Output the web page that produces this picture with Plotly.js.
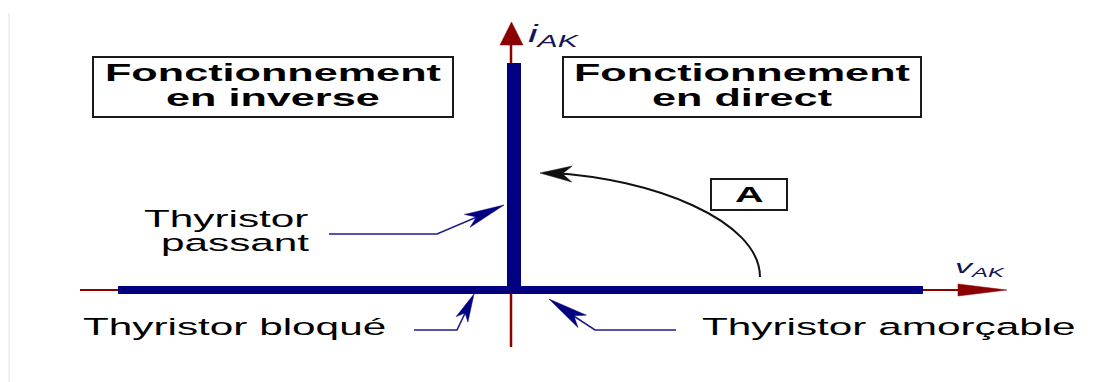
<!DOCTYPE html>
<html>
<head>
<meta charset="utf-8">
<script src="https://cdn.plot.ly/plotly-3.0.1.min.js"></script>
<style>
  html, body { margin: 0; padding: 0; background: #fff; }
  #chart { width: 1115px; height: 382px; }
  /* the reference lettering is drawn horizontally stretched */
  text.annotation-text { transform-box: fill-box; transform-origin: center; transform: scaleX(1.8); }
</style>
</head>
<body>
<div id="chart"></div>
<script>
// ---- Thyristor static characteristic (schematic units, origin at vAK = 0, iAK = 0) ----
const vBloque = [-393, 0];      // reverse region : blocked
const iBloque = [0, 0];
const vAmorcable = [0, 412];    // forward region : can be triggered
const iAmorcable = [0, 0];
const vPassant = [3, 3];        // conducting : vertical branch
const iPassant = [0, 227];

const boxTitles = ["Fonctionnement", "en inverse", "Fonctionnement", "en direct"];
const stateLabels = ["Thyristor", "passant", "Thyristor bloqué", "Thyristor amorçable"];
const axisLabels = ["<i>i<sub>AK</sub></i>", "<i>v<sub>AK</sub></i>"];
const transitionLabel = "A";

// ---- styling ----
const NAVY = "#000080";
const RED = "#8b0000";
const FONT = "Liberation Sans, Arial, sans-serif";

function arrowHead(tip, from, L, W, notch) {
  const dx = tip[0] - from[0], dy = tip[1] - from[1];
  const len = Math.hypot(dx, dy);
  const ux = dx / len, uy = dy / len, nx = -uy, ny = ux;
  const bx = tip[0] - L * ux, by = tip[1] - L * uy;
  const b1 = [bx + nx * W / 2, by + ny * W / 2];
  const b2 = [bx - nx * W / 2, by - ny * W / 2];
  const nt = [tip[0] - notch * L * ux, tip[1] - notch * L * uy];
  return `M${tip[0]},${tip[1]} L${b1[0]},${b1[1]} L${nt[0]},${nt[1]} L${b2[0]},${b2[1]} Z`;
}
function poly(pts) {
  return "M" + pts.map(p => p[0] + "," + p[1]).join(" L");
}

const traces = [
  { x: vBloque, y: iBloque, mode: "lines", line: { color: NAVY, width: 8 }, hoverinfo: "skip", showlegend: false },
  { x: vAmorcable, y: iAmorcable, mode: "lines", line: { color: NAVY, width: 8 }, hoverinfo: "skip", showlegend: false },
  { x: vPassant, y: iPassant, mode: "lines", line: { color: NAVY, width: 14 }, hoverinfo: "skip", showlegend: false }
];

const shapes = [];
// faint frame line at left
shapes.push({ type: "line", x0: -502, x1: -502, y0: 277, y1: -92, line: { color: "#e2e2e2", width: 1 }, layer: "below" });
// axes (thin dark red) with arrow heads
shapes.push({ type: "line", x0: -431, x1: 447, y0: 0, y1: 0, line: { color: RED, width: 2 }, layer: "below" });
shapes.push({ type: "line", x0: 0, x1: 0, y0: -57, y1: 245, line: { color: RED, width: 2.5 }, layer: "below" });
shapes.push({ type: "path", path: arrowHead([496, 0], [400, 0], 49, 12, 1), fillcolor: RED, line: { color: RED, width: 0.5 } });
shapes.push({ type: "path", path: arrowHead([0.5, 268], [0.5, 200], 23, 23, 1), fillcolor: RED, line: { color: RED, width: 0.5 } });
// boxes
const boxLine = { color: "#1a1a1a", width: 2 };
shapes.push({ type: "rect", x0: -418, x1: -58, y0: 173, y1: 233, line: boxLine, fillcolor: "rgba(255,255,255,0)" });
shapes.push({ type: "rect", x0: 52, x1: 410, y0: 173, y1: 233, line: boxLine, fillcolor: "rgba(255,255,255,0)" });
shapes.push({ type: "rect", x0: 200, x1: 276, y0: 80, y1: 111, line: boxLine, fillcolor: "#fff" });
// triggering arc A
shapes.push({ type: "path", path: "M249,13 C249,70 140,112 40,117", line: { color: "#111", width: 2 }, layer: "below" });
shapes.push({ type: "path", path: arrowHead([29, 117], [61, 116], 32, 16, 0.7), fillcolor: "#111", line: { color: "#111", width: 0.5 } });
// leader arrows
const leadLine = { color: "#1c1c8f", width: 1.6 };
shapes.push({ type: "path", path: poly([[-182, 56], [-74, 56], [-20, 79]]), line: leadLine });
shapes.push({ type: "path", path: arrowHead([-7, 85], [-74, 56], 40, 14, 0.75), fillcolor: NAVY, line: { color: NAVY, width: 0.5 } });
shapes.push({ type: "path", path: poly([[-97, -40], [-54, -40], [-43, -17]]), line: leadLine });
shapes.push({ type: "path", path: arrowHead([-37, -4], [-54, -40], 28, 13, 0.75), fillcolor: NAVY, line: { color: NAVY, width: 0.5 } });
shapes.push({ type: "path", path: poly([[165, -40], [84, -40], [55, -21]]), line: leadLine });
shapes.push({ type: "path", path: arrowHead([38, -9], [84, -40], 40, 15, 0.75), fillcolor: NAVY, line: { color: NAVY, width: 0.5 } });

function ann(text, x, y, size, bold, color) {
  return {
    text: bold ? "<b>" + text + "</b>" : text, x: x, y: y, xref: "x", yref: "y",
    xanchor: "center", yanchor: "middle", showarrow: false,
    font: { family: FONT, size: size, color: color || "#000" }
  };
}
const annotations = [
  ann(boxTitles[0], -238, 218, 24, true),
  ann(boxTitles[1], -238, 193, 24, true),
  ann(boxTitles[2], 231, 218, 24, true),
  ann(boxTitles[3], 231, 193, 24, true),
  ann(stateLabels[0], -285, 71, 23.5, false),
  ann(stateLabels[1], -275.5, 47, 23.5, false),
  ann(stateLabels[2], -276.5, -37, 23.5, false),
  ann(stateLabels[3], 377.5, -37, 23.5, false),
  ann(transitionLabel, 238, 96, 22, true),
  ann(axisLabels[0], 43, 255, 24, false, "#14145a"),
  ann(axisLabels[1], 469, 22, 19, false, "#14145a")
];

const layout = {
  width: 1115, height: 382,
  margin: { l: 0, r: 0, t: 0, b: 0, pad: 0 },
  paper_bgcolor: "#fff", plot_bgcolor: "#fff",
  xaxis: { range: [-511, 604], visible: false, fixedrange: true },
  yaxis: { range: [-92, 290], visible: false, fixedrange: true },
  shapes: shapes, annotations: annotations, showlegend: false
};
Plotly.newPlot("chart", traces, layout, { staticPlot: true, displayModeBar: false });
</script>
</body>
</html>
